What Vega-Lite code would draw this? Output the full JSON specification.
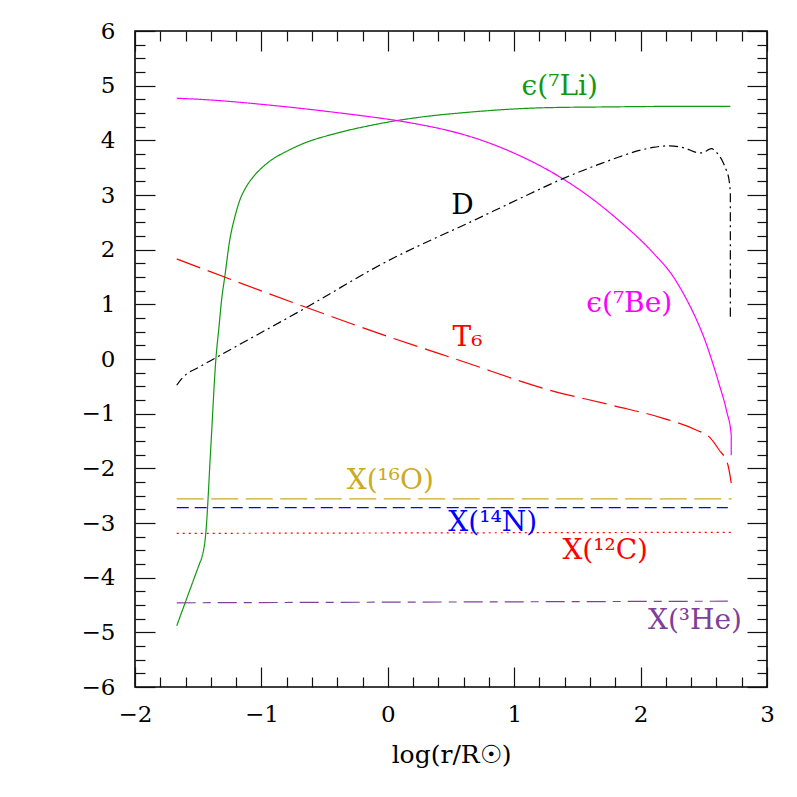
{
  "$schema": "https://vega.github.io/schema/vega-lite/v6.json",
  "width": 632,
  "height": 656,
  "autosize": {"type": "none"},
  "padding": {"left": 135, "top": 31, "right": 30, "bottom": 110},
  "background": "white",
  "config": {
    "view": {"stroke": "#000", "strokeWidth": 1.6},
    "axis": {
      "grid": false,
      "domain": false,
      "tickColor": "#111",
      "tickWidth": 1.2,
      "labelFont": "DejaVu Serif",
      "labelFontSize": 23,
      "labelColor": "#000",
      "titleFont": "DejaVu Serif",
      "titleFontSize": 25,
      "titleFontWeight": "normal",
      "titleColor": "#000"
    },
    "text": {"font": "DejaVu Serif", "fontSize": 28}
  },
  "resolve": {"axis": {"x": "independent", "y": "independent"}},
  "layer": [
    {
      "data": {"values": [
        {"s":"Li7","i":0,"x":-1.67,"y":-4.88},
        {"s":"Li7","i":1,"x":-1.49,"y":-3.746},
        {"s":"Li7","i":2,"x":-1.47,"y":-3.62},
        {"s":"Li7","i":3,"x":-1.44,"y":-3.19},
        {"s":"Li7","i":4,"x":-1.40,"y":-1.6},
        {"s":"Li7","i":5,"x":-1.36,"y":0.0},
        {"s":"Li7","i":6,"x":-1.335,"y":0.6},
        {"s":"Li7","i":7,"x":-1.315,"y":1.08},
        {"s":"Li7","i":8,"x":-1.29,"y":1.5},
        {"s":"Li7","i":9,"x":-1.25,"y":2.18},
        {"s":"Li7","i":10,"x":-1.21,"y":2.6},
        {"s":"Li7","i":11,"x":-1.17,"y":2.91},
        {"s":"Li7","i":12,"x":-1.12,"y":3.15},
        {"s":"Li7","i":13,"x":-1.065,"y":3.33},
        {"s":"Li7","i":14,"x":-1.0,"y":3.49},
        {"s":"Li7","i":15,"x":-0.933,"y":3.62},
        {"s":"Li7","i":16,"x":-0.80,"y":3.80},
        {"s":"Li7","i":17,"x":-0.67,"y":3.94},
        {"s":"Li7","i":18,"x":-0.405,"y":4.13},
        {"s":"Li7","i":19,"x":-0.142,"y":4.27},
        {"s":"Li7","i":20,"x":0.095,"y":4.37},
        {"s":"Li7","i":21,"x":0.35,"y":4.45},
        {"s":"Li7","i":22,"x":0.62,"y":4.51},
        {"s":"Li7","i":23,"x":0.90,"y":4.56},
        {"s":"Li7","i":24,"x":1.15,"y":4.59},
        {"s":"Li7","i":25,"x":1.45,"y":4.605},
        {"s":"Li7","i":26,"x":1.68,"y":4.61},
        {"s":"Li7","i":27,"x":2.20,"y":4.62},
        {"s":"Li7","i":28,"x":2.71,"y":4.62},
        {"s":"Be7","i":0,"x":-1.67,"y":4.77},
        {"s":"Be7","i":1,"x":-1.45,"y":4.745},
        {"s":"Be7","i":2,"x":-0.96,"y":4.65},
        {"s":"Be7","i":3,"x":-0.67,"y":4.58},
        {"s":"Be7","i":4,"x":-0.43,"y":4.515},
        {"s":"Be7","i":5,"x":-0.17,"y":4.44},
        {"s":"Be7","i":6,"x":0.09,"y":4.355},
        {"s":"Be7","i":7,"x":0.25,"y":4.29},
        {"s":"Be7","i":8,"x":0.52,"y":4.155},
        {"s":"Be7","i":9,"x":0.78,"y":3.97},
        {"s":"Be7","i":10,"x":1.04,"y":3.723},
        {"s":"Be7","i":11,"x":1.31,"y":3.40},
        {"s":"Be7","i":12,"x":1.57,"y":3.01},
        {"s":"Be7","i":13,"x":1.83,"y":2.53},
        {"s":"Be7","i":14,"x":2.10,"y":1.94},
        {"s":"Be7","i":15,"x":2.26,"y":1.50},
        {"s":"Be7","i":16,"x":2.36,"y":1.106},
        {"s":"Be7","i":17,"x":2.44,"y":0.73},
        {"s":"Be7","i":18,"x":2.50,"y":0.40},
        {"s":"Be7","i":19,"x":2.57,"y":-0.07},
        {"s":"Be7","i":20,"x":2.62,"y":-0.45},
        {"s":"Be7","i":21,"x":2.68,"y":-0.95},
        {"s":"Be7","i":22,"x":2.717,"y":-1.39},
        {"s":"Be7","i":23,"x":2.717,"y":-1.76},
        {"s":"D","i":0,"x":-1.67,"y":-0.48},
        {"s":"D","i":1,"x":-1.63,"y":-0.36},
        {"s":"D","i":2,"x":-1.59,"y":-0.27},
        {"s":"D","i":3,"x":-1.51,"y":-0.17},
        {"s":"D","i":4,"x":-1.41,"y":-0.04},
        {"s":"D","i":5,"x":-0.70,"y":0.87},
        {"s":"D","i":6,"x":0.09,"y":1.90},
        {"s":"D","i":7,"x":0.253,"y":2.08},
        {"s":"D","i":8,"x":0.648,"y":2.50},
        {"s":"D","i":9,"x":1.04,"y":2.93},
        {"s":"D","i":10,"x":1.386,"y":3.30},
        {"s":"D","i":11,"x":1.68,"y":3.57},
        {"s":"D","i":12,"x":1.834,"y":3.70},
        {"s":"D","i":13,"x":2.0,"y":3.82},
        {"s":"D","i":14,"x":2.097,"y":3.87},
        {"s":"D","i":15,"x":2.23,"y":3.90},
        {"s":"D","i":16,"x":2.36,"y":3.85},
        {"s":"D","i":17,"x":2.44,"y":3.78},
        {"s":"D","i":18,"x":2.49,"y":3.77},
        {"s":"D","i":19,"x":2.53,"y":3.82},
        {"s":"D","i":20,"x":2.56,"y":3.85},
        {"s":"D","i":21,"x":2.60,"y":3.78},
        {"s":"D","i":22,"x":2.65,"y":3.61},
        {"s":"D","i":23,"x":2.68,"y":3.44},
        {"s":"D","i":24,"x":2.70,"y":3.27},
        {"s":"D","i":25,"x":2.71,"y":3.03},
        {"s":"D","i":26,"x":2.71,"y":0.71}
      ]},
      "mark": {"type": "line", "strokeWidth": 1.2, "interpolate": "monotone"},
      "encoding": {
        "x": {"field": "x", "type": "quantitative",
          "scale": {"domain": [-2, 3], "nice": false, "zero": false},
          "axis": {"orient": "bottom", "values": [-2,-1,0,1,2,3],
            "tickSize": -20,
            "format": "d",
            "labelPadding": 36,
            "labelFlush": false,
            "labelOverlap": false,
            "title": "log(r/R☉)",
            "titlePadding": 16}},
        "y": {"field": "y", "type": "quantitative",
          "scale": {"domain": [-6, 6], "nice": false, "zero": false},
          "axis": {"orient": "left", "values": [-6,-5,-4,-3,-2,-1,0,1,2,3,4,5,6],
            "tickSize": -20,
            "format": "d",
            "labelPadding": 40,
            "labelFlush": false,
            "labelOverlap": false,
            "title": null}},
        "color": {"field": "s", "type": "nominal", "legend": null,
          "scale": {"domain": ["Li7","Be7","D","T6","O16","N14","C12","He3"],
                    "range": ["#119911","#ff00ff","#000000","#ff0000","#ccaa22","#0000ff","#ff0000","#7f4098"]}},
        "strokeDash": {"field": "s", "type": "nominal", "legend": null,
          "scale": {"domain": ["Li7","Be7","D","T6","O16","N14","C12","He3"],
                    "range": [[1,0],[1,0],[9,4,2,4],[25,8],[27,7.5],[12,6],[2,4],[19,7,8,7]]}},
        "detail": {"field": "s", "type": "nominal"},
        "order": {"field": "i", "type": "quantitative"}
      }
    },
    {
      "data": {"values": [
        {"s":"T6","i":0,"x":-1.67,"y":1.83},
        {"s":"T6","i":1,"x":-0.70,"y":0.99},
        {"s":"T6","i":2,"x":-0.06,"y":0.46},
        {"s":"T6","i":3,"x":0.60,"y":-0.05},
        {"s":"T6","i":4,"x":1.25,"y":-0.55},
        {"s":"T6","i":5,"x":1.78,"y":-0.85},
        {"s":"T6","i":6,"x":2.18,"y":-1.085},
        {"s":"T6","i":7,"x":2.44,"y":-1.30},
        {"s":"T6","i":8,"x":2.545,"y":-1.43},
        {"s":"T6","i":9,"x":2.62,"y":-1.66},
        {"s":"T6","i":10,"x":2.69,"y":-1.93},
        {"s":"T6","i":11,"x":2.717,"y":-2.27},
        {"s":"O16","i":0,"x":-1.67,"y":-2.56},
        {"s":"O16","i":1,"x":2.72,"y":-2.56},
        {"s":"N14","i":0,"x":-1.67,"y":-2.72},
        {"s":"N14","i":1,"x":2.69,"y":-2.72},
        {"s":"C12","i":0,"x":-1.67,"y":-3.19},
        {"s":"C12","i":1,"x":2.72,"y":-3.17},
        {"s":"He3","i":0,"x":-1.67,"y":-4.46},
        {"s":"He3","i":1,"x":2.69,"y":-4.43}
      ]},
      "mark": {"type": "line", "strokeWidth": 1.2, "interpolate": "monotone"},
      "encoding": {
        "x": {"field": "x", "type": "quantitative",
          "axis": {"orient": "bottom",
            "values": [-1.8,-1.6,-1.4,-1.2,-0.8,-0.6,-0.4,-0.2,0.2,0.4,0.6,0.8,1.2,1.4,1.6,1.8,2.2,2.4,2.6,2.8],
            "tickSize": -10, "labels": false, "title": null}},
        "y": {"field": "y", "type": "quantitative",
          "axis": {"orient": "left",
            "values": [-5.75,-5.5,-5.25,-4.75,-4.5,-4.25,-3.75,-3.5,-3.25,-2.75,-2.5,-2.25,-1.75,-1.5,-1.25,-0.75,-0.5,-0.25,0.25,0.5,0.75,1.25,1.5,1.75,2.25,2.5,2.75,3.25,3.5,3.75,4.25,4.5,4.75,5.25,5.5,5.75],
            "tickSize": -10, "labels": false, "title": null}},
        "color": {"field": "s", "type": "nominal", "legend": null},
        "strokeDash": {"field": "s", "type": "nominal", "legend": null},
        "detail": {"field": "s", "type": "nominal"},
        "order": {"field": "i", "type": "quantitative"}
      }
    },
    {
      "data": {"values": [
        {"s":"Li7","t":"ϵ(⁷Li)","x":1.36,"y":4.98},
        {"s":"Be7","t":"ϵ(⁷Be)","x":1.91,"y":1.0},
        {"s":"D","t":"D","x":0.59,"y":2.80},
        {"s":"T6","t":"T₆","x":0.63,"y":0.38}
      ]},
      "mark": {"type": "text", "align": "center", "baseline": "middle"},
      "encoding": {
        "x": {"field": "x", "type": "quantitative",
          "axis": {"orient": "top", "values": [-2,-1,0,1,2,3],
            "tickSize": -20, "labels": false, "title": null}},
        "y": {"field": "y", "type": "quantitative",
          "axis": {"orient": "right", "values": [-6,-5,-4,-3,-2,-1,0,1,2,3,4,5,6],
            "tickSize": -20, "labels": false, "title": null}},
        "text": {"field": "t"},
        "color": {"field": "s", "type": "nominal", "legend": null}
      }
    },
    {
      "data": {"values": [
        {"s":"O16","t":"X(¹⁶O)","x":0.02,"y":-2.23},
        {"s":"N14","t":"X(¹⁴N)","x":0.83,"y":-3.0},
        {"s":"C12","t":"X(¹²C)","x":1.72,"y":-3.51},
        {"s":"He3","t":"X(³He)","x":2.43,"y":-4.79}
      ]},
      "mark": {"type": "text", "align": "center", "baseline": "middle"},
      "encoding": {
        "x": {"field": "x", "type": "quantitative",
          "axis": {"orient": "top",
            "values": [-1.8,-1.6,-1.4,-1.2,-0.8,-0.6,-0.4,-0.2,0.2,0.4,0.6,0.8,1.2,1.4,1.6,1.8,2.2,2.4,2.6,2.8],
            "tickSize": -10, "labels": false, "title": null}},
        "y": {"field": "y", "type": "quantitative",
          "axis": {"orient": "right",
            "values": [-5.75,-5.5,-5.25,-4.75,-4.5,-4.25,-3.75,-3.5,-3.25,-2.75,-2.5,-2.25,-1.75,-1.5,-1.25,-0.75,-0.5,-0.25,0.25,0.5,0.75,1.25,1.5,1.75,2.25,2.5,2.75,3.25,3.5,3.75,4.25,4.5,4.75,5.25,5.5,5.75],
            "tickSize": -10, "labels": false, "title": null}},
        "text": {"field": "t"},
        "color": {"field": "s", "type": "nominal", "legend": null}
      }
    }
  ]
}
